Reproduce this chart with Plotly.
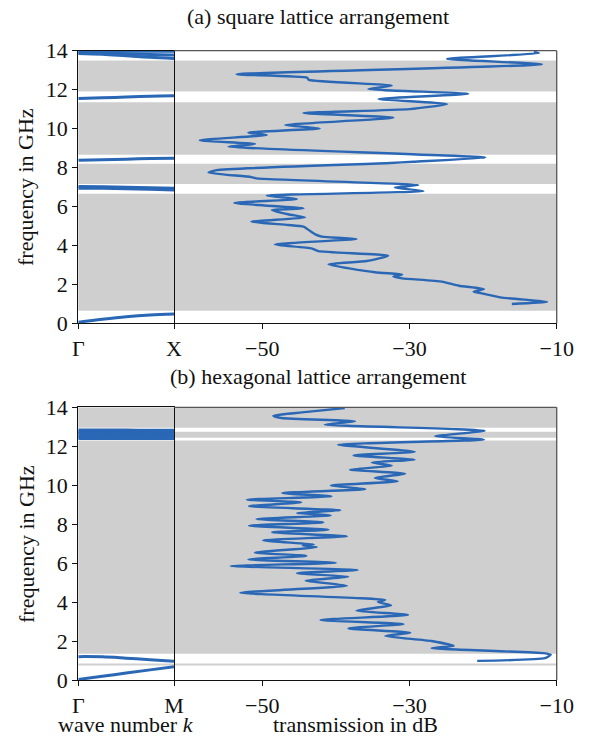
import plotly.graph_objects as go

# ---------------- data ----------------
# (a) square lattice: transmission path (frequency GHz, transmission dB)
sq_freq = [0.99, 1.11, 1.32, 1.54, 1.62, 1.76, 1.93, 2.14, 2.31, 2.40, 2.51, 2.62, 3.03, 3.20, 3.47,
           3.71, 3.85, 4.05, 4.33, 4.45, 4.57, 4.74, 4.96, 5.05, 5.22, 5.44, 5.60, 5.82, 5.90, 6.18,
           6.38, 6.56, 6.79, 6.97, 7.10, 7.44, 7.51, 7.74, 7.87, 8.23, 8.30, 8.51, 9.07, 9.21, 9.40,
           9.67, 9.79, 10.01, 10.18, 10.56, 10.80, 11.00, 11.26, 11.52, 11.79, 12.03, 12.21, 12.50,
           12.61, 12.79, 13.30, 13.58, 13.87, 13.95]
sq_db = [-16.1, -11.3, -17.4, -20.2, -21.3, -19.9, -23.3, -25.6, -31.0, -32.2, -31.0, -34.7, -41.0, -35.8, -32.9,
         -42.4, -43.3, -48.3, -37.2, -41.9, -42.8, -43.5, -44.4, -46.5, -51.5, -44.2, -46.5, -48.7, -44.4, -53.8,
         -45.3, -49.4, -28.1, -32.0, -28.8, -50.8, -51.5, -57.3, -56.2, -32.6, -29.5, -19.7, -54.6, -51.0, -58.5,
         -49.4, -51.9, -42.2, -46.9, -32.2, -44.4, -30.0, -24.9, -34.2, -22.0, -35.6, -32.4, -43.7,
         -43.9, -53.5, -12.0, -24.9, -12.4, -13.1]

# (b) hexagonal lattice
hex_freq = [0.98, 1.12, 1.30, 1.38, 1.63, 1.75, 2.00, 2.26, 2.43, 2.65, 2.87, 3.08, 3.34, 3.56, 3.83,
            4.00, 4.11, 4.48, 4.84, 5.10, 5.30, 5.48, 5.65, 5.85, 6.02, 6.19, 6.37, 6.54, 6.82, 6.90,
            6.96, 7.17, 7.38, 7.58, 7.72, 7.92, 8.09, 8.26, 8.45, 8.57, 8.71, 8.92, 9.12, 9.26, 9.43,
            9.60, 9.80, 9.98, 10.20, 10.37, 10.59, 10.80, 11.00, 11.17, 11.31, 11.53, 11.72, 12.08,
            12.34, 12.51, 12.80, 13.11, 13.28, 13.45, 13.57, 13.74, 13.96]
hex_db = [-20.8, -11.6, -10.8, -11.8, -27.0, -24.0, -27.0, -33.3, -29.9, -38.3, -30.8, -42.1, -30.2, -37.2, -32.5,
          -34.3, -33.3, -53.0, -38.5, -44.1, -38.3, -45.3, -37.0, -54.3, -40.0, -51.9, -44.0, -51.0, -42.6, -44.5,
          -43.0, -49.9, -38.5, -48.7, -41.0, -51.8, -41.7, -50.8, -40.7, -45.3, -39.4, -51.8, -44.7, -52.1, -40.6,
          -47.3, -36.0, -40.7, -31.6, -34.7, -30.6, -38.1, -32.4, -35.1, -29.3, -37.6, -29.3, -39.7,
          -19.9, -26.5, -19.8, -41.5, -37.4, -47.4, -48.5, -44.6, -38.8]

# band gaps (grey regions), GHz
sq_gap_lo = [0.65, 7.15, 8.65, 11.90]
sq_gap_hi = [6.65, 8.20, 11.35, 13.50]
hex_gap_lo = [0.75, 1.35, 12.44, 12.95]
hex_gap_hi = [0.85, 12.29, 12.75, 14.00]

# band structure: wave number samples and band frequencies
k_pts = [0.0, 0.25, 0.5, 0.75, 1.0]
sq_bands = [
    [0.06, 0.21, 0.34, 0.43, 0.48],
    [7.02, 7.01, 6.99, 6.96, 6.94],
    [6.94, 6.93, 6.91, 6.88, 6.85],
    [8.38, 8.40, 8.43, 8.46, 8.48],
    [11.55, 11.58, 11.62, 11.66, 11.68],
    [13.97, 13.97, 13.97, 13.97, 13.97],
    [13.90, 13.88, 13.84, 13.80, 13.78],
    [13.86, 13.82, 13.74, 13.66, 13.60],
]
hex_bands = [
    [0.03, 0.19, 0.36, 0.52, 0.68],
    [1.20, 1.19, 1.12, 1.04, 0.96],
    [12.84, 12.84, 12.83, 12.82, 12.82],
    [12.75, 12.75, 12.74, 12.73, 12.72],
    [12.69, 12.68, 12.67, 12.66, 12.64],
    [12.58, 12.58, 12.59, 12.60, 12.62],
    [12.49, 12.49, 12.50, 12.50, 12.51],
    [12.40, 12.40, 12.40, 12.40, 12.40],
]

freq_ticks = [0, 2, 4, 6, 8, 10, 12, 14]
db_ticks = [-50, -30, -10]

# ---------------- style ----------------
W, H = 599, 739
BLUE = "#2a67b5"
GREY = "#d0cfd0"
FONT = "Liberation Serif, Times New Roman, serif"
FS = 22

xl = [78.3 / W, 174.0 / W]
xr = [174.0 / W, 556.7 / W]
ya = [1 - 323.3 / H, 1 - 50.7 / H]
yb = [1 - 680.0 / H, 1 - 407.3 / H]

fig = go.Figure()

for b in sq_bands:
    fig.add_trace(go.Scatter(x=k_pts, y=b, mode="lines", line=dict(color=BLUE, width=3, shape="spline"),
                             xaxis="x", yaxis="y", showlegend=False, hoverinfo="skip"))
for b in hex_bands:
    fig.add_trace(go.Scatter(x=k_pts, y=b, mode="lines", line=dict(color=BLUE, width=3, shape="spline"),
                             xaxis="x3", yaxis="y3", showlegend=False, hoverinfo="skip"))

fig.add_trace(go.Scatter(x=sq_db, y=sq_freq, mode="lines",
                         line=dict(color=BLUE, width=2.4, shape="spline", smoothing=0.5),
                         xaxis="x2", yaxis="y2", showlegend=False))
fig.add_trace(go.Scatter(x=hex_db, y=hex_freq, mode="lines",
                         line=dict(color=BLUE, width=2.4, shape="spline", smoothing=0.5),
                         xaxis="x4", yaxis="y4", showlegend=False))

shapes = []
for lo, hi in zip(sq_gap_lo, sq_gap_hi):
    for xr_, yr_ in (("x domain", "y"), ("x2 domain", "y2")):
        shapes.append(dict(type="rect", xref=xr_, yref=yr_, x0=0, x1=1, y0=lo, y1=hi,
                           fillcolor=GREY, line=dict(width=0), layer="below"))
for lo, hi in zip(hex_gap_lo, hex_gap_hi):
    for xr_, yr_ in (("x3 domain", "y3"), ("x4 domain", "y4")):
        shapes.append(dict(type="rect", xref=xr_, yref=yr_, x0=0, x1=1, y0=lo, y1=hi,
                           fillcolor=GREY, line=dict(width=0), layer="below"))
for xr_, yr_ in (("x2 domain", "y2 domain"), ("x4 domain", "y4 domain")):
    shapes.append(dict(type="line", xref=xr_, yref=yr_, x0=0, x1=1, y0=1, y1=1,
                       line=dict(color="#555555", width=1.3)))
    shapes.append(dict(type="line", xref=xr_, yref=yr_, x0=1, x1=1, y0=0, y1=1,
                       line=dict(color="#555555", width=1.3)))

tickfont = dict(family=FONT, size=FS, color="#111111")
common = dict(ticks="outside", ticklen=5, tickwidth=1.2, tickcolor="#111111",
              showgrid=False, zeroline=False, tickfont=tickfont, automargin=False)

def kaxis(domain, anchor, label):
    return dict(domain=domain, anchor=anchor, range=[0, 1], tickvals=[0, 1], ticktext=["Γ", label],
                showline=True, mirror=True, linecolor="#111111", linewidth=1.3, **common)

def faxis(domain, anchor):
    return dict(domain=domain, anchor=anchor, range=[0, 14], tickvals=freq_ticks,
                showline=True, mirror=True, linecolor="#111111", linewidth=1.3, **common)

def daxis(domain, anchor):
    return dict(domain=domain, anchor=anchor, range=[-62, -10], tickvals=db_ticks,
                showline=True, mirror=False, linecolor="#111111", linewidth=1.3, **common)

def haxis(domain, anchor):
    return dict(domain=domain, anchor=anchor, range=[0, 14], showticklabels=False,
                showline=False, showgrid=False, zeroline=False, ticks="", automargin=False)

annotations = [
    dict(text="(a) square lattice arrangement", x=318 / W, y=1 - 16 / H),
    dict(text="(b) hexagonal lattice arrangement", x=318 / W, y=1 - 376 / H),
    dict(text="frequency in GHz", x=25 / W, y=1 - 187 / H, textangle=-90),
    dict(text="frequency in GHz", x=26 / W, y=1 - 544 / H, textangle=-90),
    dict(text="wave number <i>k</i>", x=126 / W, y=1 - 724 / H),
    dict(text="transmission in dB", x=355.5 / W, y=1 - 724 / H),
]
for a in annotations:
    a.update(xref="paper", yref="paper", showarrow=False, xanchor="center", yanchor="middle",
             font=dict(family=FONT, size=FS, color="#111111"))

fig.update_layout(
    width=W, height=H, margin=dict(l=0, r=0, t=0, b=0, pad=0, autoexpand=False),
    paper_bgcolor="white", plot_bgcolor="white",
    xaxis=kaxis(xl, "y", "X"), yaxis=faxis(ya, "x"),
    xaxis2=daxis(xr, "y2"), yaxis2=haxis(ya, "x2"),
    xaxis3=kaxis(xl, "y3", "M"), yaxis3=faxis(yb, "x3"),
    xaxis4=daxis(xr, "y4"), yaxis4=haxis(yb, "x4"),
    shapes=shapes, annotations=annotations, showlegend=False,
)

fig.write_html("out.html", config={"displayModeBar": False},
               post_script="document.body.style.margin='0px';document.body.style.overflow='hidden';")
